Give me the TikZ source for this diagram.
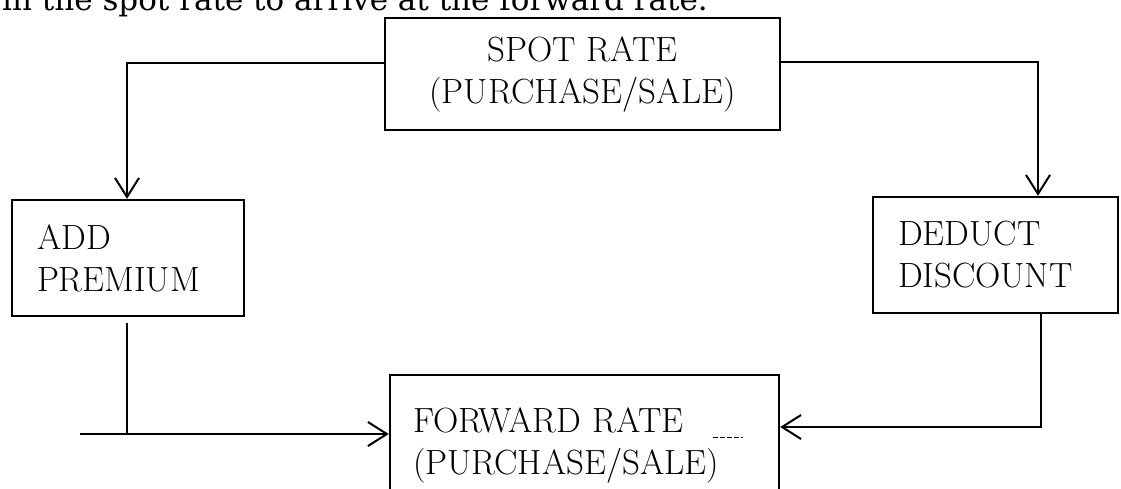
\documentclass[tikz,border=0pt]{standalone}
\usepackage{fontspec}
\newfontfamily\leadfont{DejaVu Serif}
\usetikzlibrary{arrows.meta}
\begin{document}
\begin{tikzpicture}[x=1pt,y=-1pt,
  box/.style={draw, line width=2.4pt, inner sep=0pt,
    font=\fontsize{35}{42}\selectfont},
  conn/.style={line width=2pt},
  tip/.style={-{Straight Barb[length=19pt,width=24pt,line width=2pt]}}
]
% page frame
\fill[white] (0,0) rectangle (1121,488);
\useasboundingbox (0,0) rectangle (1121,488);
\clip (0,0) rectangle (1121,488);

% running text above the chart (upper part cut by the page edge)
\node[anchor=base west, inner sep=0pt, font=\leadfont\fontsize{31}{36}\selectfont]
  (lead) at (2,10) {in the spot rate to arrive at the forward rate.};

% boxes
\node[box, minimum width=395pt, minimum height=112pt, align=center]
  (spot) at (582.5,74) {SPOT RATE\\(PURCHASE/SALE)};
\node[box, minimum width=232pt, minimum height=116pt, text width=182pt, align=left]
  (add) at (128,258) {ADD\\PREMIUM};
\node[box, minimum width=245pt, minimum height=116pt, text width=195pt, align=left]
  (deduct) at (995.5,255) {DEDUCT\\DISCOUNT};
\node[box, minimum width=389pt, minimum height=140pt, text width=343pt, align=left]
  (fwd) at (584.5,445) {FORWARD RATE\\(PURCHASE/SALE)};

% routing points
\coordinate (tl) at (127,63);
\coordinate (tr) at (1038,62);
\coordinate (bl) at (80,434);
\coordinate (blc) at (127,434);
\coordinate (brc) at (1041,427);

% connectors
\draw[conn, tip] (spot.west |- tl) -- (tl) -- (tl |- add.north);
\draw[conn, tip] (spot.east |- tr) -- (tr) -- (tr |- deduct.north);
\draw[conn] (blc |- add.south) ++(0,6) -- (blc);
\draw[conn, tip] (bl) -- (bl -| fwd.west);
\draw[conn, tip] (brc |- deduct.south) -- (brc) -- (brc -| fwd.east);

% stray underline after the first line of the lower box
\draw[line width=0.8pt, dash pattern=on 5pt off 2pt] (713,437) -- (743,437);
\end{tikzpicture}
\end{document}
